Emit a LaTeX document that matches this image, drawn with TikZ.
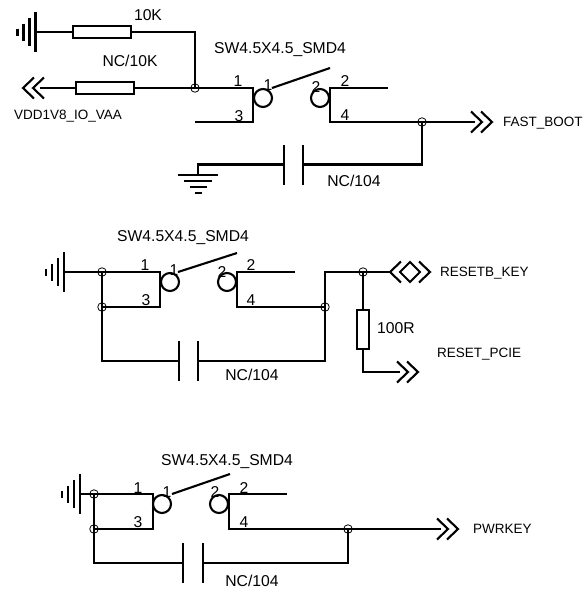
\documentclass[tikz,border=0pt]{standalone}
\usepackage{fontspec}
\setmainfont{Liberation Sans}
\tikzset{
  x=1pt,y=-1pt,
  wire/.style={line width=2.1pt,line cap=butt,line join=miter},
  res/.style={draw,line width=2.1pt,rectangle,inner sep=0pt,fill=white},
  resh/.style={res,minimum width=58pt,minimum height=12.5pt},
  resv/.style={res,minimum width=12.5pt,minimum height=39pt},
  junc/.style={draw,circle,line width=0.8pt,inner sep=0pt,minimum size=8.5pt},
  swc/.style={draw,circle,line width=2.1pt,inner sep=0pt,minimum size=18pt},
  plate/.style={rectangle,fill=black,inner sep=0pt,minimum width=2.2pt,minimum height=40pt},
  big/.style={inner sep=0pt,font=\fontsize{15.7}{16}\selectfont},
  small/.style={inner sep=0pt,font=\fontsize{13.5}{14}\selectfont},
  pics/earth/.style={code={
    \draw[wire] (0,-20)--(0,20) (-6,-14)--(-6,14) (-12,-8.5)--(-12,8.5) (-18,-3.5)--(-18,3.5);}},
  pics/chev/.style={code={
    \draw[wire] (0,-10.5)--(11,0)--(0,10.5) (10,-10.5)--(21,0)--(10,10.5);}},
  pics/bidir/.style={code={
    \draw[wire] (11,-10.5)--(0,0)--(11,10.5) (10,0)--(20,-10)--(30,0)--(20,10)--cycle (29,-10.5)--(40,0)--(29,10.5);}},
}
\begin{document}
\begin{tikzpicture}
\useasboundingbox (0,0) rectangle (585,590);
% ---------- block 1
\pic at (35.5,32) {earth};
\coordinate (g1) at (35.5,32);
\node[resh] (r1) at (102,32) {};
\node[resh] (r2) at (105,88) {};
\node[junc] (j1) at (195,88) {};
\coordinate (a1) at (40,88);
\pic[rotate=180] at (44,88) {chev};
\draw[wire] (g1) -- (r1.west) (r1.east) -| (j1.center);
\draw[wire] (a1) -- (r2.west) (r2.east) -- (j1.center);
\coordinate (p1a) at (253,88);
\coordinate (p3a) at (195,122);
\coordinate (p3b) at (253,122);
\draw[wire] (j1.center) -- (p1a) -- (p3b) -- (p3a);
\node[swc] (s1a) at (263,98) {};
\node[swc] (s1b) at (320,98) {};
\coordinate (b1a) at (272,88);
\coordinate (b1b) at (330,68);
\draw[wire] (b1a) -- (b1b);
\coordinate (p2a) at (388,88);
\coordinate (p2b) at (330,88);
\coordinate (p4b) at (330,122);
\node[junc] (j2) at (422,122) {};
\coordinate (o1) at (475,122);
\pic at (471,122) {chev};
\draw[wire] (p2a) -- (p2b) -- (p4b) -- (j2.center) -- (o1);
\node[plate] (c1a) at (284,164.5) {};
\node[plate] (c1b) at (303,164.5) {};
\draw[wire] (j2.center) |- (c1b.center);
\coordinate (g2) at (198,175);
\pic[rotate=90] at (198,175) {earth};
\draw[wire] (c1a.center) -| (g2);
\node[big] (t1) at (148,15) {10K};
\node[big] (t2) at (130,61) {NC/10K};
\node[small] (t3) at (68,116) {VDD1V8\_IO\_VAA};
\node[big] (t4) at (280,50) {SW4.5X4.5\_SMD4};
\node[big] (t5) at (238,81) {1};
\node[big] (t6) at (268,85) {1};
\node[big] (t7) at (239,116) {3};
\node[big] (t8) at (316,87) {2};
\node[big] (t9) at (345,81) {2};
\node[big] (t10) at (345,115) {4};
\node[big] (t11) at (354,181) {NC/104};
\node[small,anchor=west] (t12) at (503,123) {FAST\_BOOT};
% ---------- block 2
\pic at (63.7,272) {earth};
\coordinate (g3) at (63.7,272);
\node[junc] (j3) at (102,272) {};
\node[junc] (j4) at (102,307) {};
\coordinate (p1c) at (160,272);
\coordinate (p3c) at (160,307);
\draw[wire] (g3) -- (p1c) -- (p3c) -- (j4.center);
\node[plate] (c2a) at (179,361) {};
\node[plate] (c2b) at (198,361) {};
\draw[wire] (j3.center) -- (j4.center) |- (c2a.center);
\node[swc] (s2a) at (170,282) {};
\node[swc] (s2b) at (227,282) {};
\coordinate (b2a) at (178,272);
\coordinate (b2b) at (237,253);
\draw[wire] (b2a) -- (b2b);
\coordinate (p2c) at (295,272);
\coordinate (p2d) at (237,272);
\coordinate (p4d) at (237,307);
\node[junc] (j5) at (325,307) {};
\node[junc] (j6) at (363,272) {};
\draw[wire] (p2c) -- (p2d) -- (p4d) -- (j5.center);
\coordinate (k1) at (390,272);
\pic at (390,272) {bidir};
\draw[wire] (c2b.center) -| (j5.center) |- (j6.center) -- (k1);
\node[resv] (r3) at (363,329.5) {};
\coordinate (o2) at (400,372);
\pic at (397,372) {chev};
\draw[wire] (j6.center) -- (r3.north) (r3.south) |- (o2);
\node[big] (t13) at (183,238) {SW4.5X4.5\_SMD4};
\node[big] (t14) at (145,265) {1};
\node[big] (t15) at (174,270) {1};
\node[big] (t16) at (146,300) {3};
\node[big] (t17) at (222,272) {2};
\node[big] (t18) at (251,265) {2};
\node[big] (t19) at (251,300) {4};
\node[big] (t20) at (252,375) {NC/104};
\node[big] (t21) at (396,328) {100R};
\node[small,anchor=west] (t22) at (440,273) {RESETB\_KEY};
\node[small,anchor=west] (t23) at (437,354) {RESET\_PCIE};
% ---------- block 3
\pic at (80,494) {earth};
\coordinate (g4) at (80,494);
\node[junc] (j7) at (94,494) {};
\node[junc] (j8) at (94,529) {};
\coordinate (p1e) at (153,494);
\coordinate (p3e) at (153,529);
\draw[wire] (g4) -- (p1e) -- (p3e) -- (j8.center);
\node[plate] (c3a) at (183,563) {};
\node[plate] (c3b) at (203,563) {};
\draw[wire] (j7.center) -- (j8.center) |- (c3a.center);
\node[swc] (s3a) at (162,504) {};
\node[swc] (s3b) at (219,504) {};
\coordinate (b3a) at (172,494);
\coordinate (b3b) at (230,474);
\draw[wire] (b3a) -- (b3b);
\coordinate (p2e) at (287,494);
\coordinate (p2f) at (229,494);
\coordinate (p4f) at (229,529);
\node[junc] (j9) at (348,529) {};
\coordinate (o3) at (441,529);
\pic at (437,529) {chev};
\draw[wire] (p2e) -- (p2f) -- (p4f) -- (j9.center) -- (o3);
\draw[wire] (c3b.center) -| (j9.center);
\node[big] (t24) at (227,462) {SW4.5X4.5\_SMD4};
\node[big] (t25) at (138,488) {1};
\node[big] (t26) at (167,492) {1};
\node[big] (t27) at (138,522) {3};
\node[big] (t28) at (215,492) {2};
\node[big] (t29) at (244,488) {2};
\node[big] (t30) at (244,522) {4};
\node[big] (t31) at (252,581) {NC/104};
\node[small,anchor=west] (t32) at (473,529) {PWRKEY};
\end{tikzpicture}
\end{document}
